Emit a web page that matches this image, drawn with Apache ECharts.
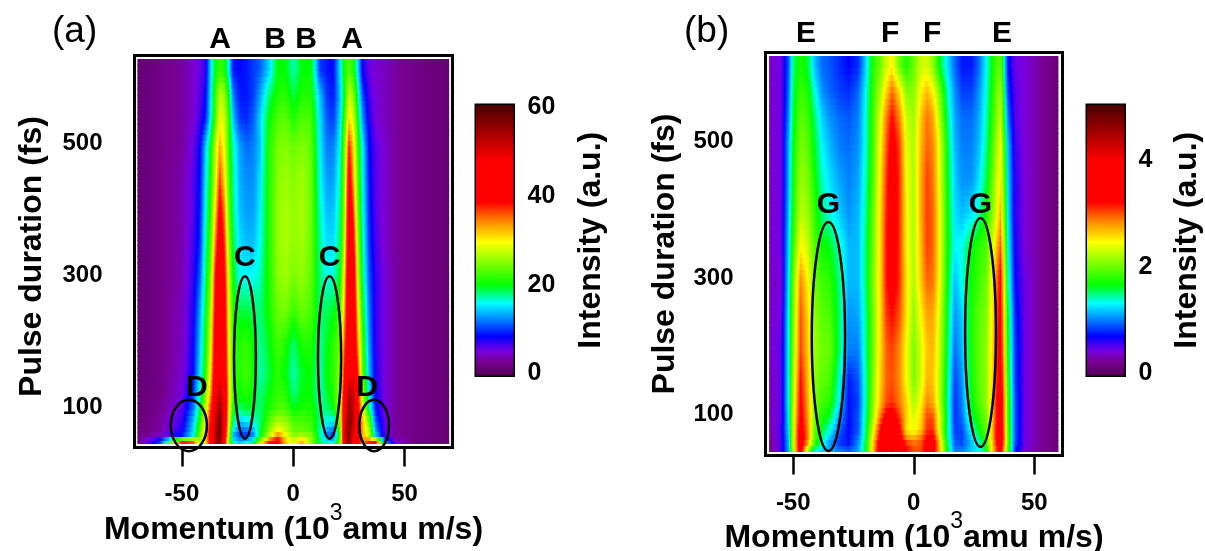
<!DOCTYPE html>
<html>
<head>
<meta charset="utf-8">
<style>html,body{margin:0;padding:0;background:#fff}#c{width:1205px;height:551px}</style>
<script src="https://cdn.jsdelivr.net/npm/echarts@6/dist/echarts.min.js"></script>
</head>
<body>
<div id="c"></div>
<script>
// ---------- Data ----------
const pulseRows = [610,572,537,495,445,395,345,295,245,195,150,117,95,77,62,54,49];

const momentumA = [-70,-60,-50,-45,-42,-39.5,-37,-35,-33,-31,-29,-27,-24,-21,-18,-15,-11,-7,-3.5,0,4,8,12,15,18,21,23,25,27,29,31,34,37,41,46,55,70];
const intensityA = [
[1,2,3,4.5,5.5,7,15,20,22,21,16,9,8.5,9,10,11,14.5,20,20,17,20,20,10,9,8.5,15,21,23,21,15,8,5.5,4.5,4,3,2,1],
[1,2,3,4.5,6,8,15.5,22,27,26,20,12,9,9,10,13,18,21,21.5,19,21,21,14,10,9,14,20,28,25,18,11,6.5,5,4,3,2,1],
[1,2,3,4.5,6.5,9,16,23,29,28,22,14,10,9.5,11,14.5,20,23,23.5,21,23,22.5,15,11,10,15,22,31,28,20,13,7.5,5,4,3,2,1],
[1,2,3,5.5,8,14,20,27,33,29,22,17,13,11.5,12,14,21,24.5,25,24,25,23.5,15.5,12,12,16,24,38,31,22,16,8.5,6,4.5,3,2,1],
[1,2,3.5,6,8.5,15,21,28,37,31,23,17.5,13.5,12.5,12.5,15,21,25,26,25,26,24,16,13,13,17,25,42,33,23,16.5,9,6,4.5,3,2,1],
[1,2,3.5,6,9,16,22,31,41,35,24,18,14,13,13,15.5,21,25.5,26.5,25.5,26.5,24,17,14,14,18,26,45,37,24,17,9.5,6,4.5,3,2,1],
[1,2,3.5,6.5,9.5,17,23,35,43,38,26,19,15,14,14,16,21,25.5,26.5,25.5,26,24,17.5,15,15,18.5,28,46,41,26,18,10,6.5,4.5,3,2,1],
[1,2,3.5,7,11,18,25,39,44,41,28,20,16,16,16,17,21,25,26,24.5,25.5,23.5,18,16.5,16.5,20,31,46,44,28,19,11,7,5,3,2,1],
[1,2,4,7.5,13,19,27,41,46,43,29,21,19,19,18.5,18,20.5,24,24.5,22,24,22.5,18.5,18.5,19.5,22,33,46,45,31,21,12,7,5,3,2,1],
[1,2,4,8,14,20,29,43,46,44,30,22,21,22,20,17.5,19.5,22.5,21,18,21,21,17.5,19.5,21.5,24,36,46,46,34,23,13,7,5,3,2,1],
[1,2,4.5,8.5,15,21,31,45,48,45,31,22,21,22.5,20.5,17,19,21.5,20,17,19.5,20,17,20,21.5,25,39,48,48,38,24,14,7.5,5,3,2,1],
[1,2,5,10,17,24,34,47,53,47,32,22,20,21,20,18,20,22,21.5,18,20,20,17,19,21,26,43,54,52,40,27,16,8,5,3,2,1],
[1,2.5,6,12,19,27,38,49,56,47,31,20,18,19,19,18,21,23,23,20,21,21,18,18,19.5,27,46,56,52,42,30,19,9,5,3,2,1],
[1,3,7,14,21,29,40,52,58,47,30,18,14,15,16,18,23,27,26,23,23,22,18,16,15,25,48,57,52,43,33,24,11,6,3,2,1],
[1.5,3,8,15,23,31,41,53,58,46,28,15,11,11,13,19,25,31,28,24,24,23,17,13,11,23,49,57,50,42,33,27,13,6,3,2,1],
[2,5,10,16,25,31,42,53,58,45,27,13,10,9,12,19,28,37,31,26,28,26,18,12,10,22,50,57,48,42,33,28,15,7,3,2,1],
[2,10,38,36,27,30,42,53,57,43,25,17,14,16,18,28,38,40,32,28,33,25,18,17,16,24,48,56,47,42,34,38,39,14,5,2,1]
];

const momentumB = [-60,-55,-52,-50,-47,-44,-41,-38,-35,-31,-27,-23,-20,-17,-14,-11.5,-9,-6,-3,0,3,5.5,8,11,14,17,20,24,27,30,33,36,39,42,46,52,60];
const intensityB = [
[.35,.45,.9,1.5,1.75,1.6,1.15,.95,.9,.8,.7,.8,1.2,1.75,2,2.3,2.5,2,1.75,2,2.3,2.35,2.1,1.6,1.25,.95,.75,.75,.95,1.3,1.75,2,.75,.45,.4,.25,.1],
[.35,.45,.95,1.55,1.85,1.75,1.35,1.05,.95,.85,.8,.95,1.3,1.8,2.2,2.6,2.95,2.6,2.1,2.1,2.5,2.7,2.5,2,1.4,1.05,.85,.85,1.05,1.35,1.8,2.2,.85,.5,.4,.25,.1],
[.35,.45,1,1.6,1.95,1.85,1.5,1.2,1.05,.95,.9,1,1.35,1.85,2.35,2.85,3.2,2.85,2.3,2.15,2.65,2.9,2.75,2.15,1.5,1.1,.95,.95,1.1,1.4,1.85,2.3,1,.5,.4,.25,.1],
[.35,.45,1.1,1.65,2.05,1.95,1.6,1.3,1.15,1,.95,1.05,1.35,1.85,2.45,2.95,3.4,3.05,2.4,2.2,2.7,2.95,2.85,2.35,1.6,1.15,1,1,1.15,1.45,1.95,2.45,1.2,.55,.4,.25,.1],
[.35,.45,1.1,1.7,2.15,2.05,1.7,1.4,1.25,1.1,1,1.1,1.4,1.9,2.5,3.05,3.5,3.1,2.45,2.2,2.75,3.05,2.9,2.35,1.65,1.2,1.05,1.05,1.25,1.55,2.05,2.55,1.25,.6,.4,.25,.1],
[.35,.45,1.15,1.75,2.25,2.15,1.8,1.5,1.35,1.2,1.05,1.15,1.45,1.95,2.55,3.1,3.45,3.1,2.5,2.2,2.75,3.05,2.95,2.4,1.7,1.25,1.15,1.25,1.4,1.7,2.15,2.7,1.3,.6,.4,.25,.1],
[.35,.45,1.2,1.85,2.5,2.3,1.9,1.7,1.65,1.4,1.15,1.15,1.5,2,2.55,3.15,3.45,3.1,2.5,2.2,2.7,3.05,2.95,2.4,1.7,1.3,1.35,1.65,1.8,1.9,2.4,3,1.4,.65,.4,.25,.1],
[.35,.4,1.25,2,2.85,2.5,2,1.85,1.8,1.5,1.15,1.15,1.5,2.05,2.55,3.15,3.4,3.1,2.55,2.2,2.65,2.95,2.9,2.4,1.65,1.15,1.35,1.7,1.85,2,2.55,3.3,1.5,.7,.45,.25,.1],
[.35,.45,1.3,2.05,3,2.6,2.1,1.95,1.9,1.55,1.05,1.1,1.45,2,2.55,3.05,3.2,3,2.55,2.1,2.5,2.75,2.75,2.3,1.6,1.05,1.2,1.75,1.95,2.05,2.6,3.4,1.65,.8,.45,.25,.1],
[.35,.5,1.3,2.1,3.05,2.65,2.15,2,2,1.55,1,1,1.45,2,2.55,2.95,3.05,2.85,2.45,2.05,2.35,2.65,2.7,2.25,1.55,.95,1.15,1.75,1.95,2.1,2.65,3.5,1.7,.85,.45,.25,.1],
[.3,.5,1.3,2.2,3.2,2.7,2.1,1.95,1.9,1.4,.75,.9,1.4,2.05,2.6,2.95,3,2.85,2.45,2.05,2.35,2.7,2.65,2.2,1.5,.85,1.05,1.7,1.95,2.1,2.7,3.6,1.8,.85,.45,.25,.1],
[.3,.5,1.3,2.25,3.3,2.75,2.05,1.85,1.8,1.3,.72,.85,1.4,2.1,2.65,3,3.1,2.9,2.6,2.2,2.5,2.85,2.75,2.2,1.45,.8,1,1.65,1.9,2.1,2.75,3.75,1.9,.9,.45,.25,.1],
[.3,.5,1.25,2.3,3.35,2.8,2,1.75,1.6,1.1,.72,.9,1.45,2.15,2.9,3.35,3.45,3.1,2.6,2.35,2.6,3.05,3,2.3,1.5,.8,.95,1.55,1.8,2,2.75,3.8,1.9,.9,.45,.25,.1],
[.25,.55,1.2,2.3,3.5,2.85,1.95,1.6,1.35,.95,.7,.9,1.5,2.35,3.2,3.6,3.7,3.3,2.55,2.4,2.65,3.1,3.1,2.3,1.45,.85,.85,1.35,1.65,1.95,2.8,3.85,1.95,.9,.45,.25,.1],
[.2,.55,1.15,2.3,3.6,2.9,1.9,1.45,1.15,.85,.72,1,1.55,2.5,3.35,3.8,3.9,3.5,2.9,2.8,2.95,3.3,3.4,2.5,1.5,.9,.85,1.2,1.45,1.85,2.8,3.9,2,.9,.45,.25,.1],
[.15,.55,1.1,2.3,3.5,2.6,1.75,1.35,1.05,.85,.75,1.05,1.6,2.6,3.5,3.9,4,3.6,3.2,3,3,3.4,3.5,2.6,1.6,.95,.9,1.15,1.35,1.75,2.7,3.6,1.95,.85,.45,.25,.1],
[.15,.55,1.1,2.3,3.5,2.2,1.4,1.2,1.15,1,.9,1.1,1.6,2.6,3.5,3.9,4.2,3.7,3.2,3,3,3.4,3.4,2.6,1.6,1,1,1.2,1.3,1.6,2.7,3.5,1.9,.8,.4,.25,.1]
];

const xTicks = [-50,0,50];
const yTicks = [100,300,500];
const barTicksA = [0,20,40,60];
const barTicksB = [0,2,4];

const lettersA = ['A','B','B','A','C','C','D','D'];
const letterMomentumA = [-32.9,-8.2,5.7,26.4,-21.7,16.3,-43.3,33.1];
const letterPulseA = [657,657,657,657,326,326,129,129];
const ellipseMomentumA = [-21.7,16.3,-46.9,36.3];
const ellipsePulseA = [175,175,72,72];
const ellipseRxA = [4.9,5.2,8.1,6.7];
const ellipseRyA = [123,123,39,39];

const lettersB = ['E','F','F','E','G','G'];
const letterMomentumB = [-44.7,-9.8,7.6,36.6,-35.4,27.7];
const letterPulseB = [659,659,659,659,408,408];
const ellipseMomentumB = [-35.4,27.7];
const ellipsePulseB = [214,220];
const ellipseRxB = [6.9,6.4];
const ellipseRyB = [168,168];

// ---------- Colour map, position along the bar -> colour ----------
const cmapPos = [0,.05,.09,.145,.205,.267,.335,.494,.574,.641,.794,1];
const cmapRgb = [[85,0,90],[120,0,145],[120,0,225],[0,0,255],[0,128,255],[0,255,255],[0,255,0],[255,255,0],[255,128,0],[255,0,0],[255,0,0],[75,0,0]];
function cmap(t){
  t=Math.max(0,Math.min(1,t));
  let i=0; while(i<cmapPos.length-2 && t>cmapPos[i+1]) i++;
  const f=(t-cmapPos[i])/(cmapPos[i+1]-cmapPos[i]);
  const a=cmapRgb[i],b=cmapRgb[i+1];
  return 'rgb('+[0,1,2].map(k=>Math.round(a[k]+(b[k]-a[k])*f)).join(',')+')';
}

const FONT='"Liberation Sans", Arial, sans-serif';

function heatRender(xs,table,vMin,vMax,top,bottom){
  return function(params,api){
    const j=params.dataIndex;
    const pl=api.coord([xs[0],pulseRows[0]])[0], pr=api.coord([xs[xs.length-1],pulseRows[0]])[0];
    const w=pr-pl, kids=[];
    const upper=j===0?top:pulseRows[j];
    const lower=j===pulseRows.length-1?bottom:pulseRows[j+1];
    const yU=Math.round(api.coord([0,upper])[1]), yL=Math.round(api.coord([0,lower])[1]);
    const rowTop=api.coord([0,pulseRows[j]])[1];
    const rowBot=j<pulseRows.length-1?api.coord([0,pulseRows[j+1]])[1]:rowTop;
    const n=Math.max(1,Math.round((yL-yU)/6));
    for(let s=0;s<n;s++){
      const y0=yU+Math.round((yL-yU)*s/n), y1=yU+Math.round((yL-yU)*(s+1)/n);
      const ym=(y0+y1)/2;
      let f=rowBot>rowTop?(ym-rowTop)/(rowBot-rowTop):0; f=Math.max(0,Math.min(1,f));
      const next=table[Math.min(j+1,table.length-1)], cur=table[j];
      const stops=[];
      for(let i=0;i<xs.length-1;i++){
        const va=cur[i]+(next[i]-cur[i])*f, vb=cur[i+1]+(next[i+1]-cur[i+1])*f;
        const xa=api.coord([xs[i],pulseRows[0]])[0], xb=api.coord([xs[i+1],pulseRows[0]])[0];
        for(let q=0;q<4;q++){
          const u=q/4, v=va+(vb-va)*u;
          stops.push({offset:(xa+(xb-xa)*u-pl)/w,color:cmap((v-vMin)/(vMax-vMin))});
        }
      }
      const lv=cur[xs.length-1]+(next[xs.length-1]-cur[xs.length-1])*f;
      stops.push({offset:1,color:cmap((lv-vMin)/(vMax-vMin))});
      kids.push({type:'rect',shape:{x:pl,y:y0,width:w,height:y1-y0+(s<n-1||j<pulseRows.length-1?1:0)},
        style:{fill:new echarts.graphic.LinearGradient(0,0,1,0,stops)}});
    }
    return {type:'group',children:kids};
  };
}
function annotRender(letters,lm,lp,em,ep,erx,ery){
  return function(params,api){
    const kids=[];
    em.forEach((m,i)=>{
      const c=api.coord([m,ep[i]]), e=api.coord([m+erx[i],ep[i]+ery[i]]);
      kids.push({type:'ellipse',shape:{cx:c[0],cy:c[1],rx:e[0]-c[0],ry:c[1]-e[1]},style:{fill:'none',stroke:'#000',lineWidth:2.5}});
    });
    letters.forEach((t,i)=>{
      const c=api.coord([lm[i],lp[i]]);
      kids.push({type:'text',style:{text:t,x:c[0],y:c[1],align:'center',verticalAlign:'middle',fill:'#000',font:'bold 30px '+FONT}});
    });
    return {type:'group',children:kids};
  };
}
function barRender(vMin,vMax){
  return function(params,api){
    const a=api.coord([0,vMax]), b=api.coord([1,vMin]);
    const stops=cmapPos.map((p,i)=>({offset:1-p,color:cmap(p)})).reverse();
    return {type:'rect',shape:{x:a[0],y:a[1],width:b[0]-a[0],height:b[1]-a[1]},
      style:{fill:new echarts.graphic.LinearGradient(0,0,0,1,stops)}};
  };
}
const tickLabel={fontFamily:FONT,fontWeight:'bold',fontSize:24,color:'#000'};
const barLabel={fontFamily:FONT,fontWeight:'bold',fontSize:25,color:'#000'};
const titleStyle={fontFamily:FONT,fontWeight:'bold',fontSize:32,color:'#000'};
const momentumName='{t|Momentum (10}{s|3}{t|amu m/s)}';
const momentumRich={t:{fontFamily:FONT,fontWeight:'bold',fontSize:32,color:'#000'},
  s:{fontFamily:FONT,fontSize:23,color:'#000',verticalAlign:'bottom',padding:[0,0,32,0]}};

function gridBox(l,r,t,b){return {left:l,top:t,width:r-l,height:b-t,show:true,backgroundColor:'#fff',borderColor:'#000',borderWidth:3,containLabel:false,outerBoundsMode:'none'};}
function mainX(idx,min,max,labelMargin,gap){
  return {type:'value',gridIndex:idx,min,max,position:'bottom',splitLine:{show:false},axisLine:{show:false},
    axisTick:{show:true,length:19,inside:false,customValues:xTicks,lineStyle:{color:'#000',width:2.5}},
    axisLabel:Object.assign({customValues:xTicks,margin:labelMargin,formatter:v=>String(v)},tickLabel),
    name:momentumName,nameLocation:'middle',nameGap:gap,nameMoveOverlap:false,nameTextStyle:{rich:momentumRich}};
}
function mainY(idx,min,max,gap,nudge){
  return {type:'value',gridIndex:idx,min,max,position:'left',splitLine:{show:false},axisLine:{show:false},
    axisTick:{show:true,length:20,customValues:yTicks,lineStyle:{color:'#000',width:2.5}},
    axisLabel:Object.assign({customValues:yTicks,margin:32,formatter:v=>String(v)},tickLabel),
    name:'Pulse duration (fs)',nameLocation:'middle',nameGap:gap,nameMoveOverlap:false,
    nameTextStyle:Object.assign({padding:[0,nudge,0,0]},titleStyle)};
}
function barX(idx){return {type:'value',gridIndex:idx,min:0,max:1,show:false};}
function barY(idx,min,max,ticks,gap){
  return {type:'value',gridIndex:idx,min,max,position:'right',splitLine:{show:false},axisLine:{show:false},
    axisTick:{show:true,length:9,customValues:ticks,lineStyle:{color:'#000',width:2.5}},
    axisLabel:Object.assign({customValues:ticks,margin:14,formatter:v=>String(v)},barLabel),
    name:'Intensity (a.u.)',nameLocation:'middle',nameRotate:90,nameGap:gap,nameMoveOverlap:false,nameTextStyle:titleStyle};
}

const option={
  animation:false,
  backgroundColor:'#fff',
  grid:[gridBox(134.5,452.5,55.5,447.5),gridBox(765.5,1062.5,52.5,455.5),gridBox(476,513.5,105,375.5),gridBox(1087,1124.5,105,375.5)],
  xAxis:[mainX(0,-71.3,71.5,35,55),mainX(1,-61.5,61.7,36,55),barX(2),barX(3)],
  yAxis:[mainY(0,38.6,632.6,86,10),mainY(1,39.5,630.9,84,0),barY(2,-0.45,60.55,barTicksA,62),barY(3,-0.04,5.04,barTicksB,47)],
  graphic:[
    {type:'text',left:52,top:13,style:{text:'(a)',font:'37px '+FONT,fill:'#000'}},
    {type:'text',left:684,top:13,style:{text:'(b)',font:'37px '+FONT,fill:'#000'}}
  ],
  series:[
    {type:'custom',coordinateSystem:'cartesian2d',xAxisIndex:0,yAxisIndex:0,clip:false,silent:true,
     renderItem:heatRender(momentumA,intensityA,-0.45,60.55,627,44),
     encode:{x:0,y:1},data:pulseRows.map(p=>[0,p])},
    {type:'custom',coordinateSystem:'cartesian2d',xAxisIndex:1,yAxisIndex:1,clip:false,silent:true,
     renderItem:heatRender(momentumB,intensityB,-0.04,5.04,626,44.7),
     encode:{x:0,y:1},data:pulseRows.map(p=>[0,p])},
    {type:'custom',coordinateSystem:'cartesian2d',xAxisIndex:2,yAxisIndex:2,silent:true,
     renderItem:barRender(-0.45,60.55),encode:{x:0,y:1},data:[[0,0]]},
    {type:'custom',coordinateSystem:'cartesian2d',xAxisIndex:3,yAxisIndex:3,silent:true,
     renderItem:barRender(-0.04,5.04),encode:{x:0,y:1},data:[[0,0]]},
    {type:'custom',coordinateSystem:'cartesian2d',xAxisIndex:0,yAxisIndex:0,clip:false,silent:true,z:10,
     renderItem:annotRender(lettersA,letterMomentumA,letterPulseA,ellipseMomentumA,ellipsePulseA,ellipseRxA,ellipseRyA),
     encode:{x:0,y:1},data:[[0,300]]},
    {type:'custom',coordinateSystem:'cartesian2d',xAxisIndex:1,yAxisIndex:1,clip:false,silent:true,z:10,
     renderItem:annotRender(lettersB,letterMomentumB,letterPulseB,ellipseMomentumB,ellipsePulseB,ellipseRxB,ellipseRyB),
     encode:{x:0,y:1},data:[[0,300]]}
  ]
};
const chart=echarts.init(document.getElementById('c'),null,{renderer:'canvas'});
chart.setOption(option);
</script>
</body>
</html>
